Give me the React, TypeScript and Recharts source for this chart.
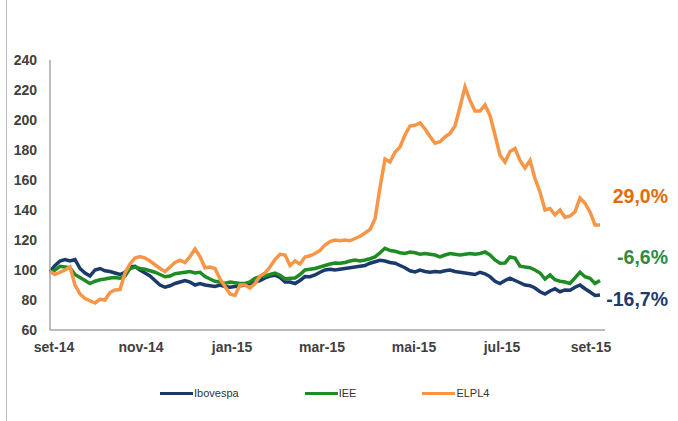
import React from 'react';
import { LineChart, Line, XAxis, YAxis, Customized } from 'recharts';

// Index values (base 100), sampled evenly from set-14 to set-15
const ibovespa = [
  99, 103, 106, 107, 106, 107, 101, 98, 96, 100, 101, 99.5, 99, 98, 97, 98.5, 102, 102.5, 100, 98,
  96, 93, 90, 88.5, 89.5, 91, 92, 93, 92, 90, 91, 90, 89.5, 89, 90, 89, 88.5, 89, 89.5, 90,
  91, 92, 93, 94.7, 96, 96.5, 95, 92, 92, 91, 93, 95.6, 95.5, 96.7, 98.5, 100, 100.5, 100, 100.5, 101,
  101.5, 102, 102.5, 103, 104.5, 105.5, 106.5, 106, 105, 104.5, 103, 101.5, 99.5, 98.7, 100, 99, 98.5, 99, 98.7, 99.5,
  100, 99, 98.5, 98, 97.5, 97, 98.5, 97.5, 95.6, 92.5, 91, 93, 94.5, 93, 91.5, 90, 89.5, 88, 85.5, 84,
  86, 87.5, 85.5, 86.7, 86.5, 88.5, 90, 87.5, 85.3, 83, 83.3,
];
const iee = [
  98, 100, 102.5, 102, 101.5, 97, 95, 93, 91, 92.5, 93.5, 94, 94.7, 95, 94.5, 96, 101, 102, 101, 100.5,
  99.5, 98.5, 97, 95.5, 96, 97.5, 98, 98.5, 99, 98, 98.5, 95.6, 94, 92.5, 92, 91, 92, 91.5, 91, 91,
  92, 94.5, 95.6, 96, 97, 98, 96.5, 94, 94.5, 94.7, 97, 100, 100.5, 101, 102, 103, 104, 104.7, 104.5, 105,
  106, 106.7, 106, 106.7, 107.5, 108.7, 111.5, 114.5, 113, 112.5, 111.5, 111, 112, 111.5, 110.5, 111, 110.5, 110, 108.7, 110,
  111, 110.5, 110, 110.5, 111, 110.5, 111, 112, 110, 106.7, 104.5, 104.7, 108.7, 108, 102.5, 102, 101.5, 100, 98, 94,
  96.7, 93.5, 92.5, 92, 91, 94.7, 98.5, 95.5, 94.5, 91, 93,
];
const elpl4 = [
  99, 97, 98.5, 100, 102, 90, 84, 81, 79.5, 78, 80.5, 80, 85, 86.7, 87, 98, 104, 108, 109, 108,
  106, 103.5, 101, 99, 102, 105, 106.5, 105, 109, 114, 109, 101.5, 102, 101, 94, 89, 84, 83, 90, 90,
  88, 91, 96, 98, 102, 107, 110.5, 110, 103, 106, 104, 108.7, 109.5, 111, 113, 116.7, 119, 120, 119.5, 120,
  119.5, 121, 122.5, 124.7, 127, 134, 155, 174, 172, 178.5, 182, 190, 196, 196.5, 198, 194, 189, 184.5, 185.5, 188.7,
  191, 196, 208.7, 222, 213, 206, 206, 210, 203, 190, 176.5, 172, 179, 181, 173, 168, 173, 161, 152, 140,
  141, 136.7, 140, 135, 136, 138.7, 148, 144.5, 138.7, 130, 130,
];

const seriesNames = ['Ibovespa', 'IEE', 'ELPL4'];
const seriesColors = ['#1B3A6B', '#1E8C23', '#F79646'];
const endLabels = ['-16,7%', '-6,6%', '29,0%'];
const endLabelColors = ['#1F3B6E', '#2E8B44', '#E36C0A'];

const monthLabels = ['set-14', 'nov-14', 'jan-15', 'mar-15', 'mai-15', 'jul-15', 'set-15'];
const monthTickPos = [0.8, 18.2, 36.4, 54.4, 72.8, 90.4, 108.2];
const yTicks = [60, 80, 100, 120, 140, 160, 180, 200, 220, 240];

const data = ibovespa.map((v, i) => ({ x: i, Ibovespa: v, IEE: iee[i], ELPL4: elpl4[i] }));

const fontFamily = 'Arial, "Liberation Sans", sans-serif';

const EndLabels = () => (
  <g>
    <text x={668} y={203} textAnchor="end" fontSize={19.5} fontWeight="bold" fill={endLabelColors[2]} fontFamily={fontFamily}>{endLabels[2]}</text>
    <text x={668} y={264} textAnchor="end" fontSize={19.5} fontWeight="bold" fill={endLabelColors[1]} fontFamily={fontFamily}>{endLabels[1]}</text>
    <text x={668} y={306} textAnchor="end" fontSize={19.5} fontWeight="bold" fill={endLabelColors[0]} fontFamily={fontFamily}>{endLabels[0]}</text>
  </g>
);

const LegendBox = () => (
  <div style={{ position: 'absolute', left: 160, top: 386, height: 14, display: 'flex', alignItems: 'center', fontFamily, fontSize: 11, color: '#333' }}>
    {seriesNames.map((n, i) => (
      <div key={n} style={{ display: 'flex', alignItems: 'center', marginRight: 66 }}>
        <div style={{ width: 33, height: 3, background: seriesColors[i], marginRight: 1 }} />
        <span>{n}</span>
      </div>
    ))}
  </div>
);

export default function App() {
  return (
    <div style={{ position: 'absolute', left: 0, top: 0, width: 678, height: 421, background: '#fff' }}>
      <div style={{ position: 'absolute', left: 6, top: 0, width: 1, height: 421, background: '#BFBFBF' }} />
      <LineChart
        width={678}
        height={421}
        data={data}
        margin={{ top: 60, right: 73, bottom: 61, left: 0 }}
      >
        <XAxis
          dataKey="x"
          type="number"
          domain={[0, 111]}
          ticks={monthTickPos}
          tickFormatter={(v: number) => monthLabels[monthTickPos.indexOf(v)] ?? ''}
          tickLine={false}
          tickSize={0}
          tickMargin={12}
          height={30}
          interval={0}
          axisLine={{ stroke: '#A6A6A6', strokeWidth: 1.5 }}
          tick={{ fill: '#404040', fontSize: 14, fontWeight: 'bold', fontFamily }}
        />
        <YAxis
          domain={[60, 240]}
          ticks={yTicks}
          interval={0}
          width={50}
          tickLine={false}
          tickSize={0}
          tickMargin={13}
          axisLine={{ stroke: '#A6A6A6', strokeWidth: 1.5 }}
          tick={{ fill: '#404040', fontSize: 14, fontWeight: 'bold', fontFamily }}
        />
        <Line type="linear" dataKey="Ibovespa" stroke={seriesColors[0]} strokeWidth={3.5} dot={false} isAnimationActive={false} />
        <Line type="linear" dataKey="IEE" stroke={seriesColors[1]} strokeWidth={3.5} dot={false} isAnimationActive={false} />
        <Line type="linear" dataKey="ELPL4" stroke={seriesColors[2]} strokeWidth={3.5} dot={false} isAnimationActive={false} />
        <Customized component={EndLabels} />
      </LineChart>
      <LegendBox />
    </div>
  );
}
